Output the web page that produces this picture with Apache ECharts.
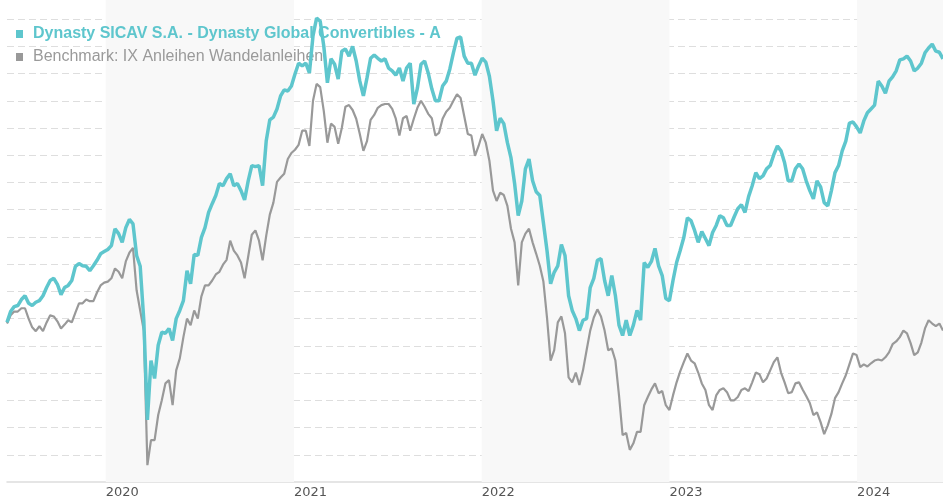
<!DOCTYPE html>
<html>
<head>
<meta charset="utf-8">
<title>Dynasty Global Convertibles</title>
<script src="https://cdn.jsdelivr.net/npm/echarts/dist/echarts.min.js"></script>
<style>
  html, body { margin: 0; padding: 0; background: #fff; }
  #echarts-wrapper { width: 943px; height: 500px; }
</style>
</head>
<body>
<div id="echarts-wrapper"></div>
<script>
var fundName = 'Dynasty SICAV S.A. - Dynasty Global Convertibles - A';
var benchName = 'Benchmark: IX Anleihen Wandelanleihen';

// weekly closes, first one on 23 Jun 2019
var startDay = [2019, 5, 23];
var stepDays = 7;

// years with the grey band behind them
var shadedYears = [2020, 2022, 2024];

var fund = [
  99.3, 101.3, 102.2, 102.4, 103.5, 104.2, 102.8, 102.4, 103.0, 103.3,
  104.2, 105.7, 107.0, 107.4, 106.3, 104.4, 105.7, 106.1, 107.0, 109.6,
  110.1, 109.7, 109.6, 108.8, 109.7, 110.7, 111.9, 112.3, 112.7, 113.4,
  116.5, 115.6, 114.0, 116.7, 118.2, 117.4, 111.6, 109.6, 99.7, 81.4,
  92.3, 89.0, 95.1, 97.5, 97.3, 98.2, 96.0, 100.0, 101.5, 103.3,
  108.8, 106.4, 111.8, 111.6, 114.9, 116.7, 119.5, 121.1, 122.6, 124.8,
  124.4, 125.7, 126.6, 124.4, 124.8, 123.5, 121.8, 125.3, 128.1, 127.9,
  128.1, 124.4, 132.6, 136.5, 137.0, 138.5, 140.9, 142.0, 141.8, 142.7,
  144.9, 146.9, 146.4, 146.9, 145.1, 151.9, 155.2, 154.6, 150.0, 143.3,
  147.7, 146.7, 144.0, 149.1, 149.5, 148.2, 150.0, 147.3, 143.6, 140.9,
  144.2, 147.8, 148.4, 147.8, 147.3, 147.7, 146.0, 145.5, 144.7, 146.0,
  143.6, 146.0, 146.9, 139.4, 142.3, 146.7, 147.3, 145.1, 142.2, 140.0,
  140.0, 142.7, 143.6, 145.8, 148.8, 151.5, 151.7, 148.2, 146.9, 146.9,
  144.7, 146.4, 147.8, 147.1, 144.5, 140.0, 134.5, 136.8, 135.8, 132.3,
  129.5, 124.8, 118.9, 121.6, 127.5, 129.3, 125.3, 123.3, 122.6, 117.6,
  112.5, 106.4, 108.5, 109.7, 113.6, 111.6, 104.2, 101.5, 100.0, 97.8,
  99.7, 100.0, 105.7, 107.4, 110.7, 111.0, 107.0, 104.2, 107.9, 104.2,
  98.8, 96.9, 99.7, 96.9, 98.8, 101.5, 99.7, 110.3, 109.4, 110.5,
  112.9, 109.7, 107.9, 103.7, 103.3, 107.0, 110.3, 112.5, 114.9, 118.5,
  118.0, 116.2, 114.0, 116.0, 114.7, 113.4, 115.8, 117.1, 118.9, 118.5,
  117.1, 117.1, 118.7, 120.2, 120.9, 119.5, 122.4, 124.4, 126.8, 125.7,
  126.2, 127.5, 128.1, 130.1, 131.7, 130.8, 128.6, 125.3, 125.3, 127.5,
  128.4, 127.5, 125.3, 123.5, 122.0, 125.3, 124.2, 121.3, 120.7, 123.5,
  126.8, 128.1, 130.8, 132.6, 135.9, 136.1, 135.2, 134.1, 136.3, 137.8,
  138.5, 139.2, 143.6, 142.7, 141.4, 143.6, 144.4, 145.5, 147.5, 147.7,
  148.2, 147.3, 145.5, 146.0, 146.9, 148.8, 149.7, 150.4, 149.1, 148.9,
  147.7
];

var bench = [
  99.1, 100.6, 101.3, 101.3, 101.9, 101.9, 100.0, 98.4, 97.7, 98.6,
  97.7, 99.3, 100.6, 100.4, 99.5, 98.2, 98.9, 99.7, 99.3, 101.1,
  102.8, 102.8, 103.5, 103.2, 103.2, 104.8, 106.1, 106.6, 106.8, 107.4,
  109.2, 108.6, 107.4, 110.5, 112.1, 113.0, 105.2, 101.5, 97.8, 73.1,
  77.7, 77.7, 82.3, 85.0, 88.1, 88.7, 84.1, 90.5, 92.7, 96.6,
  100.0, 98.8, 101.5, 100.0, 104.1, 106.1, 106.1, 107.0, 108.1, 108.6,
  109.9, 110.8, 114.3, 112.5, 111.6, 110.3, 107.4, 111.4, 115.4, 116.2,
  114.3, 110.7, 115.2, 119.1, 121.3, 125.1, 125.9, 126.6, 129.3, 130.4,
  131.0, 131.9, 134.5, 134.5, 131.7, 140.0, 143.1, 142.5, 138.1, 132.3,
  135.8, 135.2, 132.1, 135.0, 138.9, 139.2, 138.3, 136.7, 133.9, 130.8,
  132.6, 136.5, 137.4, 138.7, 139.2, 139.4, 139.4, 138.5, 136.7, 133.6,
  136.8, 137.2, 134.5, 136.7, 138.7, 140.0, 138.9, 137.6, 136.8, 133.6,
  134.1, 136.7, 138.0, 138.7, 140.0, 141.2, 140.5, 137.2, 133.9, 133.6,
  129.9, 131.7, 133.9, 132.3, 129.0, 123.5, 121.6, 123.1, 122.7, 120.7,
  116.5, 114.0, 106.1, 114.0, 115.6, 116.5, 114.0, 111.9, 109.7, 106.8,
  100.2, 92.3, 94.2, 99.3, 100.4, 97.3, 89.2, 88.3, 90.1, 87.8,
  90.5, 94.2, 97.8, 100.2, 101.7, 100.4, 97.8, 94.2, 94.5, 92.3,
  85.9, 78.6, 79.0, 75.9, 77.1, 79.2, 79.2, 84.1, 85.6, 87.0,
  88.1, 86.3, 86.7, 84.1, 83.2, 85.9, 88.3, 90.3, 92.0, 93.6,
  92.3, 91.8, 90.1, 88.1, 86.9, 84.1, 83.2, 85.9, 86.9, 87.2,
  86.5, 85.0, 85.0, 85.6, 86.9, 87.2, 86.7, 88.3, 90.1, 89.8,
  88.3, 89.0, 90.5, 92.0, 92.9, 90.1, 88.3, 86.3, 86.5, 88.1,
  88.3, 87.0, 85.8, 84.5, 82.3, 82.8, 81.0, 78.8, 80.4, 82.5,
  85.4, 86.5, 88.1, 89.6, 91.6, 93.6, 93.3, 91.1, 91.6, 91.2,
  91.8, 92.3, 92.5, 92.3, 92.9, 93.8, 95.3, 95.8, 96.6, 97.8,
  97.3, 95.5, 93.3, 93.8, 95.6, 98.2, 99.7, 99.1, 98.6, 99.1,
  97.8
];

var DAY = 24 * 3600 * 1000;
var t0 = Date.UTC(startDay[0], startDay[1], startDay[2]);
var dates = fund.map(function (v, i) { return t0 + i * stepDays * DAY; });
var tEnd = dates[dates.length - 1];

function pairs(values) {
  return values.map(function (v, i) { return [dates[i], v]; });
}

var bands = shadedYears.map(function (y) {
  return [
    { xAxis: Date.UTC(y, 0, 1) },
    { xAxis: Math.min(Date.UTC(y + 1, 0, 1), tEnd) }
  ];
});

var myChart = echarts.init(document.getElementById('echarts-wrapper'));

var option = {
  animation: false,
  useUTC: true,
  backgroundColor: '#ffffff',
  grid: { left: 7, right: 0, top: 0, bottom: 18 },
  legend: {
    orient: 'vertical',
    left: 11,
    top: 21,
    z: 2,
    itemGap: 7,
    itemWidth: 7,
    itemHeight: 8,
    icon: 'rect',
    selectedMode: false,
    textStyle: { fontSize: 16, fontFamily: 'Liberation Sans', padding: [0, 0, 0, 5] },
    data: [
      { name: fundName, textStyle: { color: '#5ec6cd', fontWeight: 'bold' } },
      { name: benchName, textStyle: { color: '#9a9a9a' } }
    ]
  },
  xAxis: {
    type: 'time',
    min: dates[0],
    max: tEnd,
    minInterval: 365 * DAY,
    axisLine: { lineStyle: { color: '#dddddd', width: 1.5 } },
    axisTick: { show: false },
    splitLine: { show: false },
    axisLabel: {
      formatter: '{yyyy}',
      align: 'left',
      margin: 4,
      showMinLabel: false,
      showMaxLabel: false,
      color: '#555555',
      fontSize: 13,
      fontFamily: 'DejaVu Sans'
    }
  },
  yAxis: {
    type: 'value',
    min: 70,
    max: 158.5,
    interval: 5,
    axisLine: { show: false },
    axisTick: { show: false },
    axisLabel: { show: false },
    splitLine: {
      showMinLine: false,
      showMaxLine: false,
      lineStyle: { color: '#dedede', type: [7, 4], width: 1 }
    }
  },
  series: [
    {
      // empty series only carrying the year bands, kept below the legend
      name: 'bands',
      type: 'line',
      data: [],
      z: 1,
      silent: true,
      markArea: {
        silent: true,
        itemStyle: { color: '#f8f8f8' },
        data: bands
      }
    },
    {
      name: benchName,
      type: 'line',
      data: pairs(bench),
      z: 3,
      showSymbol: false,
      color: '#999999',
      lineStyle: { width: 2.2, color: '#999999' }
    },
    {
      name: fundName,
      type: 'line',
      data: pairs(fund),
      z: 4,
      showSymbol: false,
      color: '#5ec6cd',
      lineStyle: { width: 3.5, color: '#5ec6cd' }
    }
  ]
};

myChart.setOption(option);
</script>
</body>
</html>
